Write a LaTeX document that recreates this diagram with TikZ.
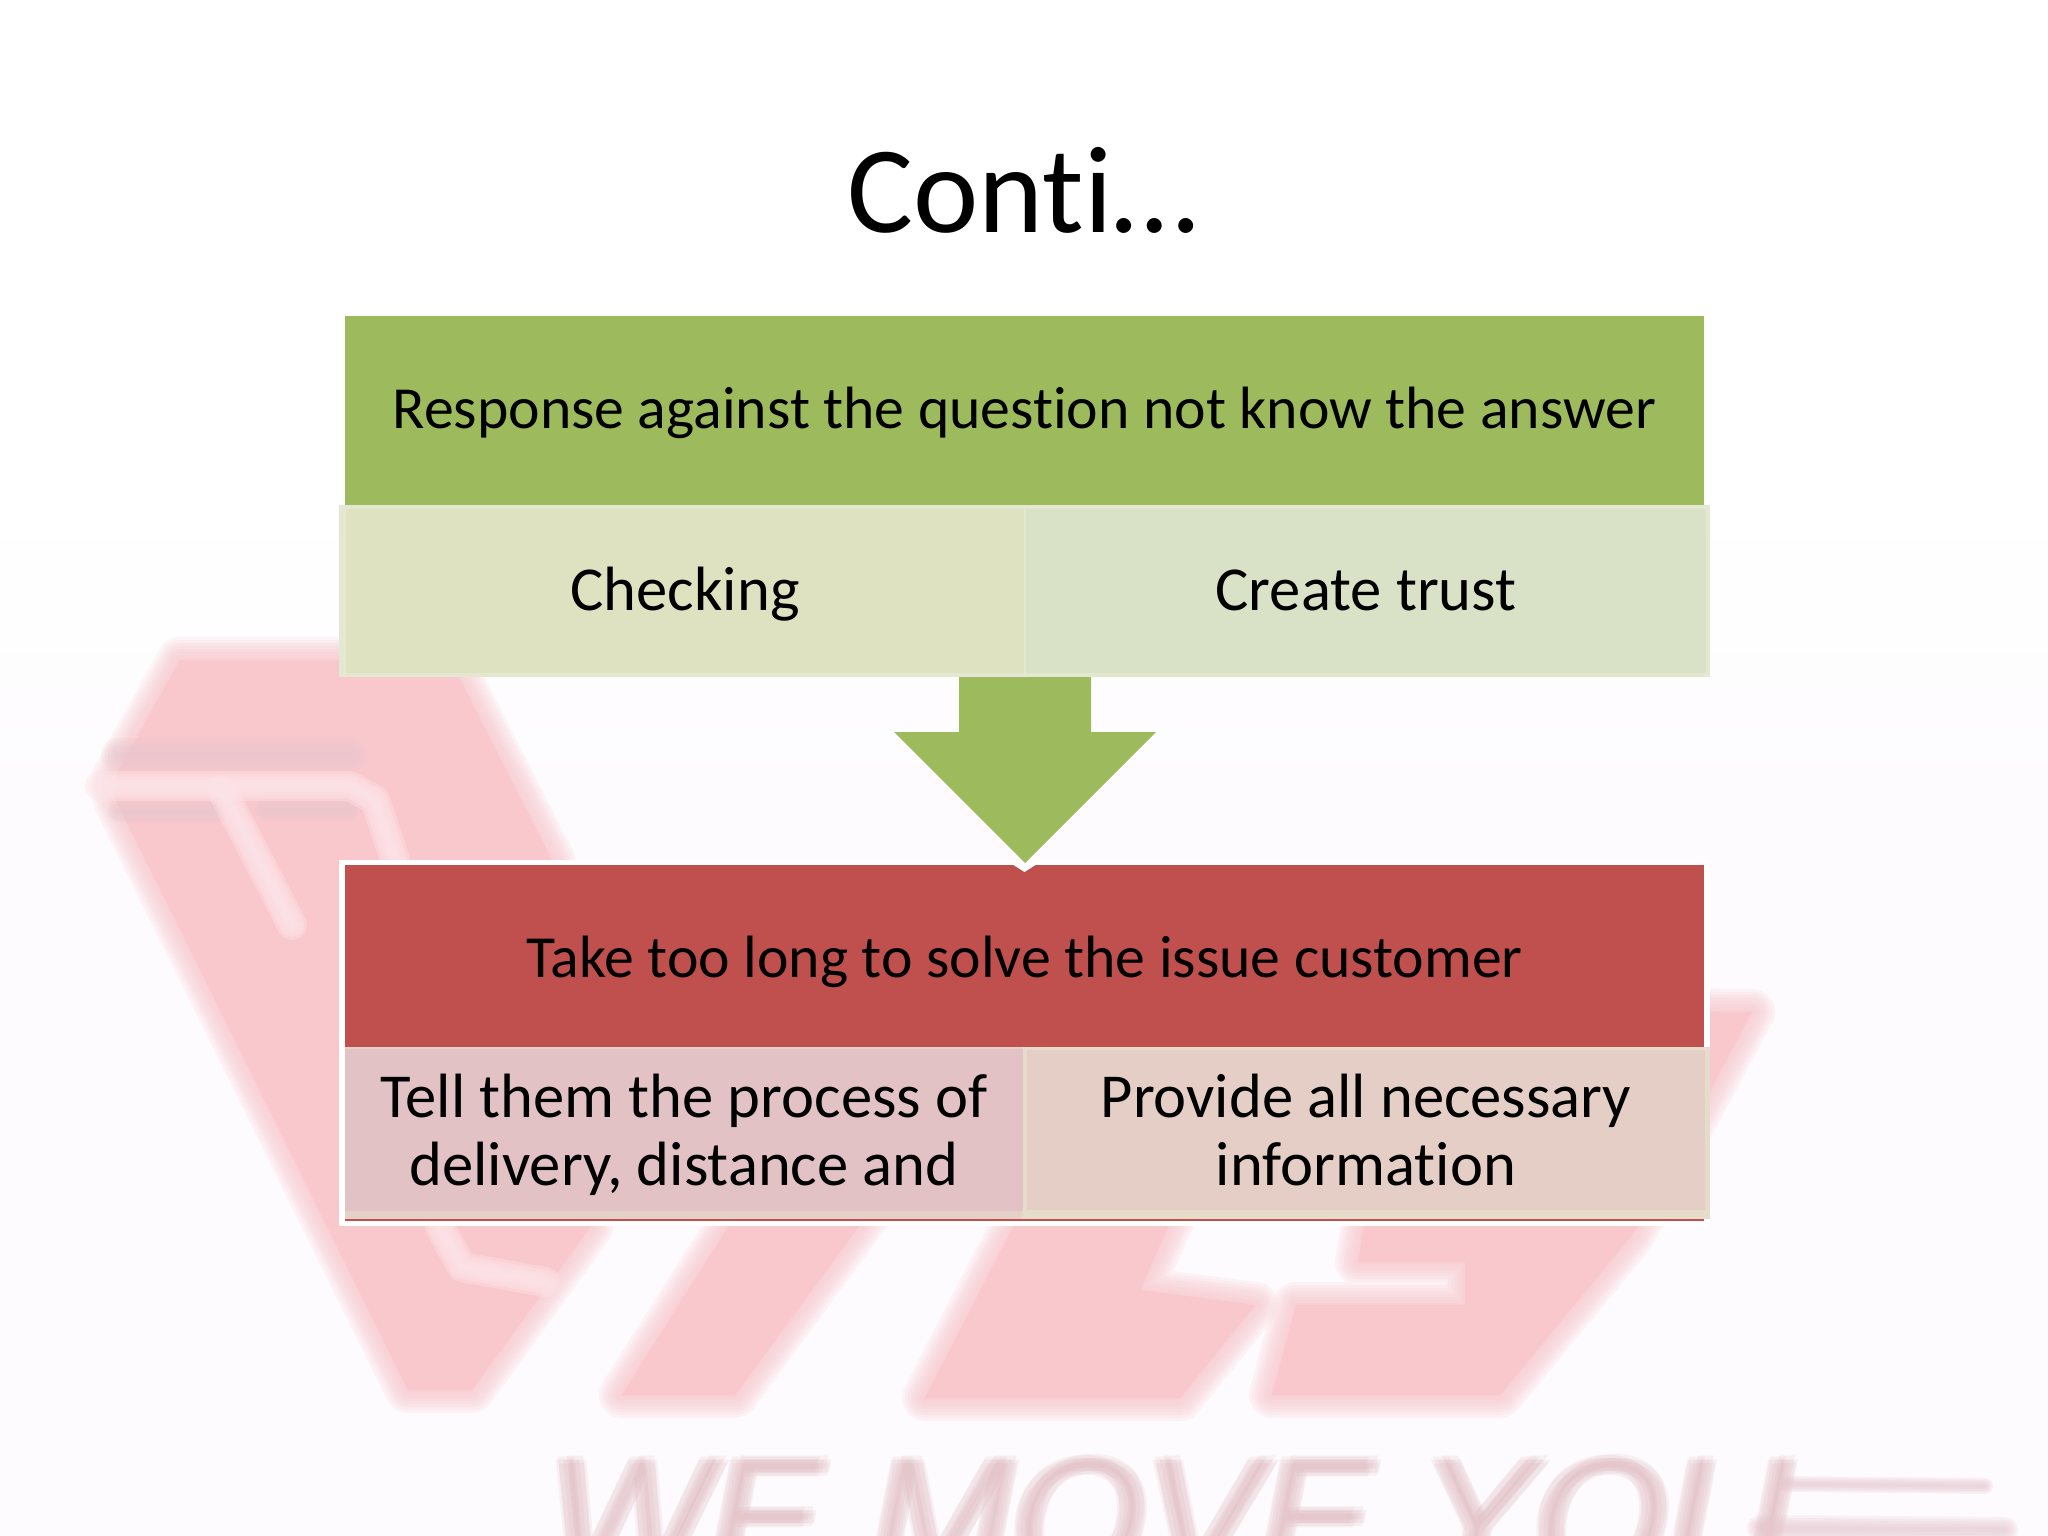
\documentclass[tikz,border=0pt]{standalone}
\usepackage{fontspec}
\setmainfont[Ligatures=CommonOff]{Carlito}
\newfontfamily\wmfont{Liberation Sans}
\usetikzlibrary{calc}
\definecolor{pagebg}{HTML}{FDFBFE}
\definecolor{wmpink}{HTML}{F8C8CD}
\definecolor{wmdark}{HTML}{E6C6CE}
\definecolor{wmline}{HTML}{FDE4E8}
\definecolor{wmtext}{HTML}{DDB4BC}
\definecolor{hgreen}{HTML}{9DBB5C}
\definecolor{hred}{HTML}{C0504D}
\definecolor{gleft}{HTML}{DEE2C1}
\definecolor{gright}{HTML}{D9E2C7}
\definecolor{gedge}{HTML}{E4E8D0}
\definecolor{rleft}{HTML}{E3C2C5}
\definecolor{rright}{HTML}{E4CEC5}
\definecolor{redge}{HTML}{E5DCCB}
\def\ux{0.3515625pt}
\tikzset{
  cellbox/.style={inner sep=0pt,outer sep=0pt,align=center,text=black,font=\fontsize{22}{23.9}\selectfont,minimum width=#1*\ux},
  hdrbox/.style={cellbox=#1,font=\fontsize{21}{24}\selectfont},
  softedge/.style={line join=round,line cap=round},
}
\newcommand{\softpoly}[2]{%
  \foreach \w in {46,40,34,28,22,16,10,4}{\draw[#1,opacity=.17,softedge,line width=\w*\ux] #2;}%
  \fill[#1] #2;}
\newcommand{\softstripe}[3]{%
  \foreach \w in {#2,#2*.8,#2*.6,#2*.4,#2*.2}{\draw[#1,opacity=#3,softedge,line width=\w*\ux] plot coordinates {\stripepts};}}
\begin{document}
\begin{tikzpicture}[x=\ux,y=-\ux]
\useasboundingbox (0,0) rectangle (2048,1536);
\clip (0,0) rectangle (2048,1536);
\fill[white] (0,0) rectangle (2048,1536);
\shade[top color=white,bottom color=pagebg] (0,500) rectangle (2048,800);
\fill[pagebg] (0,800) rectangle (2048,1536);
% watermark logo
\softpoly{wmpink}{(180,660) -- (450,660) -- (552,860) -- (590,1227) -- (472,1390) -- (408,1390) -- (116,800) -- (116,775) -- cycle}
\softpoly{wmpink}{(745,1200) -- (878,1200) -- (735,1395) -- (622,1395) -- cycle}
\softpoly{wmpink}{(1027,1200) -- (1180,1200) -- (1140,1290) -- (1255,1305) -- (1180,1398) -- (925,1398) -- cycle}
\softpoly{wmpink}{(1368,1200) -- (1500,1010) -- (1752,1012) -- (1632,1235) -- (1500,1395) -- (1272,1395) -- (1296,1305) -- (1465,1305) -- (1465,1262) -- (1358,1262) -- cycle}
\def\stripepts{(118,755) (350,755)}\softstripe{wmdark}{34}{.16}
\def\stripepts{(118,812) (215,812)}\softstripe{wmdark}{22}{.14}
\def\stripepts{(265,810) (350,810)}\softstripe{wmdark}{22}{.14}
\def\stripepts{(100,786) (350,786) (375,800) (395,860)}\softstripe{wmline}{30}{.4}
\def\stripepts{(222,790) (292,925)}\softstripe{wmline}{30}{.4}
\def\stripepts{(440,1227) (462,1267) (545,1282)}\softstripe{wmline}{30}{.4}
% faint slogan
\foreach \dx/\dy [count=\k] in {0/0,-5/-3,5/3,4/-4,-4/4,-7/0,7/0}{
  \node[name=slogan\k,anchor=north west,inner sep=0pt,text=wmtext,opacity=.17,font=\wmfont\itshape\fontsize{60}{70}\selectfont] at (548+\dx,1458+\dy) {WE MOVE YOU};
}
\def\stripepts{(1785,1484) (1985,1486)}\softstripe{wmdark}{16}{.2}
\def\stripepts{(1760,1528) (2005,1530)}\softstripe{wmdark}{26}{.2}
% title
\node[name=title,anchor=base,inner sep=0pt,font=\fontsize{43.5}{44}\selectfont] at (1023,233) {Conti…};
% upper block
\node[name=hdrA,hdrbox=1359,fill=hgreen,minimum height=189*\ux,text height=113*\ux,text depth=76*\ux] at (1024.5,410.5) {Response against the question not know the answer};
\fill[gedge] (339,505) rectangle (1710,677);
\node[name=checking,cellbox=678,fill=gleft,minimum height=164*\ux,text height=102*\ux,text depth=62*\ux] at (685,591) {Checking};
\node[name=trust,cellbox=680,fill=gright,minimum height=164*\ux,text height=102*\ux,text depth=62*\ux] at (1366,591) {Create trust};
% lower block
\fill[white] (339,860) rectangle (1710,1226);
\node[name=hdrB,hdrbox=1359,fill=hred,minimum height=182*\ux,text height=112*\ux,text depth=70*\ux] at (1024.5,956) {Take too long to solve the issue customer};
\fill[hred] (345,1218) rectangle (1704,1220.5);
\fill[redge!60!rleft] (345,1047) rectangle (1022,1219);
\fill[redge] (1022,1047) rectangle (1710,1219);
\node[name=tellcell,cellbox=678,fill=rleft,minimum height=162*\ux] at (684,1130) {};
\node[name=tell,cellbox=676] at (684,1135) {Tell them the process of\\delivery, distance and};
\node[name=provide,cellbox=678,fill=rright,minimum height=160*\ux] at (1366,1130) {Provide all necessary\\information};
% block arrow from the upper block to the lower block
\path ($(checking.south east)!0.5!(trust.south west)$) coordinate (split);
\path (hdrB.north) coordinate (arrowend);
\fill[white] (arrowend) ++(-11,0) -- ++(22,0) -- ++(-11,7) -- cycle;
\fill[hgreen] (split) ++(-66,4) -- ++(132,0) -- ++(0,55) -- ++(65,0) -- ++(-131,131) -- ++(-131,-131) -- ++(65,0) -- cycle;
\end{tikzpicture}
\end{document}
